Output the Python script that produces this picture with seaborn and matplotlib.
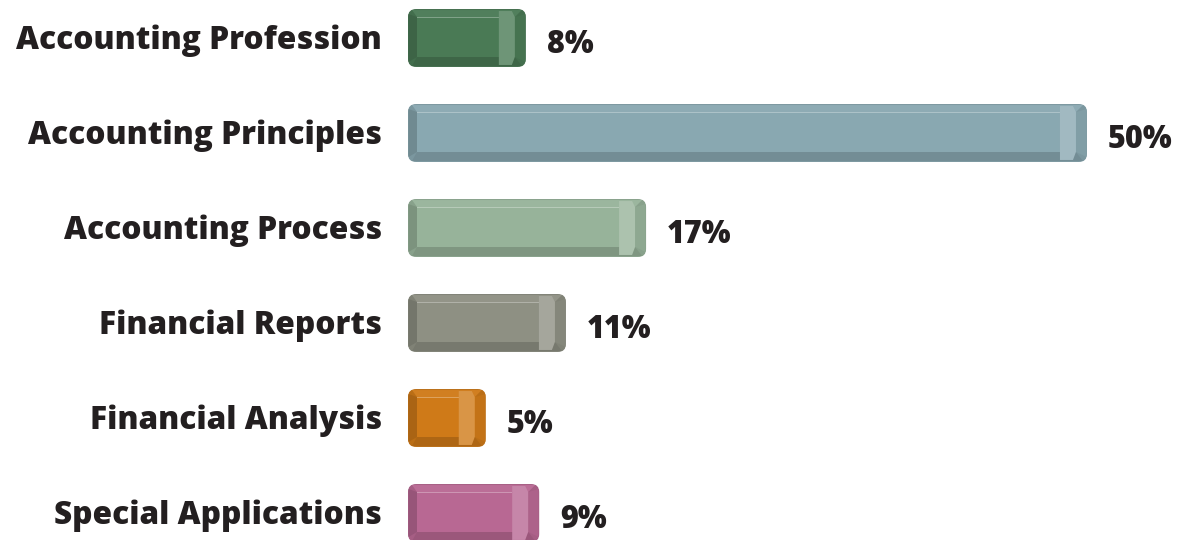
import matplotlib
matplotlib.use("Agg")
import matplotlib.pyplot as plt
import seaborn as sns
import pandas as pd
from matplotlib.patches import FancyBboxPatch, Rectangle, Polygon
import matplotlib.colors as mcolors

categories = ["Accounting Profession", "Accounting Principles", "Accounting Process",
              "Financial Reports", "Financial Analysis", "Special Applications"]
values = [8, 50, 17, 11, 5, 9]
labels = ["8%", "50%", "17%", "11%", "5%", "9%"]
colors = ["#4a7a55", "#89a8b1", "#97b39a", "#8e9083", "#cf7a18", "#b86893"]

df = pd.DataFrame({"category": categories, "value": values})

sns.set_theme(style="white")
plt.rcParams["font.family"] = ["Open Sans", "DejaVu Sans"]

fig = plt.figure(figsize=(11.91, 5.40), dpi=100)
x0 = -0.82
ppu = 13.36
left_px = 408
xmax = x0 + (1191 - left_px) / ppu
ax = fig.add_axes([left_px / 1191, (540 - 560.5) / 540, 1 - left_px / 1191, 570 / 540])

sns.barplot(data=df, x="value", y="category", hue="category", palette=colors,
            orient="h", width=0.61, legend=False, ax=ax)
ax.set_xlim(x0, xmax)
ax.set_ylim(5.5, -0.5)
ax.axis("off")

def shade(c, f):
    r, g, b = mcolors.to_rgb(c)
    if f < 1:
        return (r * f, g * f, b * f)
    f = f - 1
    return (r + (1 - r) * f, g + (1 - g) * f, b + (1 - b) * f)

yu = 1 / 95.0   # one pixel in y units
xu = 1 / ppu    # one pixel in x units
bars = list(ax.patches)
for bar, col, lab in zip(bars, colors, labels):
    y = bar.get_y()
    h = bar.get_height()
    w = bar.get_width()
    bar.set_visible(False)
    L = x0
    R = w
    W = R - L
    body = FancyBboxPatch((L, y), W, h, boxstyle="round,pad=0,rounding_size=0.6",
                          mutation_aspect=ppu / 95, fc=shade(col, 0.9), ec="none", zorder=2)
    ax.add_patch(body)
    el = 9 * xu
    er = 11 * xu
    tt = 8 * yu
    tb = 10 * yu
    ax.add_patch(Polygon([(L + 4 * xu, y + 1 * yu), (R - 4 * xu, y + 1 * yu),
                          (R - er, y + tt), (L + el, y + tt)],
                         closed=True, fc=shade(col, 1.04), ec="none", zorder=3))
    ax.add_patch(Polygon([(L + 4 * xu, y + h - 1 * yu), (R - 4 * xu, y + h - 1 * yu),
                          (R - er, y + h - tb), (L + el, y + h - tb)],
                         closed=True, fc=shade(col, 0.84), ec="none", zorder=3))
    ax.add_patch(Polygon([(L + 0.5 * xu, y + 5 * yu), (L + el, y + tt),
                          (L + el, y + h - tb), (L + 0.5 * xu, y + h - 5 * yu)],
                         closed=True, fc=shade(col, 0.82), ec="none", zorder=3))
    ax.add_patch(Polygon([(R - 0.5 * xu, y + 5 * yu), (R - er, y + tt),
                          (R - er, y + h - tb), (R - 0.5 * xu, y + h - 5 * yu)],
                         closed=True, fc=shade(col, 0.94), ec="none", zorder=3))
    ax.add_patch(Rectangle((L + el, y + tt), W - el - er, h - tt - tb,
                           fc=col, ec="none", zorder=3))
    ax.add_patch(Rectangle((L + el, y + tt), W - el - er - 16 * xu, 1.3 * yu,
                           fc=shade(col, 1.3), ec="none", zorder=4))
    ax.add_patch(Polygon([(R - er - 16 * xu, y + 2 * yu), (R - er - 3 * xu, y + 2 * yu),
                          (R - er, y + tt), (R - er, y + h - tb),
                          (R - er - 3 * xu, y + h - 2 * yu), (R - er - 16 * xu, y + h - 2 * yu)],
                         closed=True, fc=shade(col, 1.2), ec="none", zorder=4))
    ax.text(R + 1.55, y + h / 2 + 15 * yu, lab, ha="left", va="baseline",
            fontsize=22, fontweight="black", color="#231f20", zorder=5)

for i, cat in enumerate(categories):
    ax.text(x0 - 26 * xu, i + 11 * yu, cat, ha="right", va="baseline",
            fontsize=22.8, fontweight="black", color="#231f20", clip_on=False)

fig.savefig("out.png", dpi=100, facecolor="white")
